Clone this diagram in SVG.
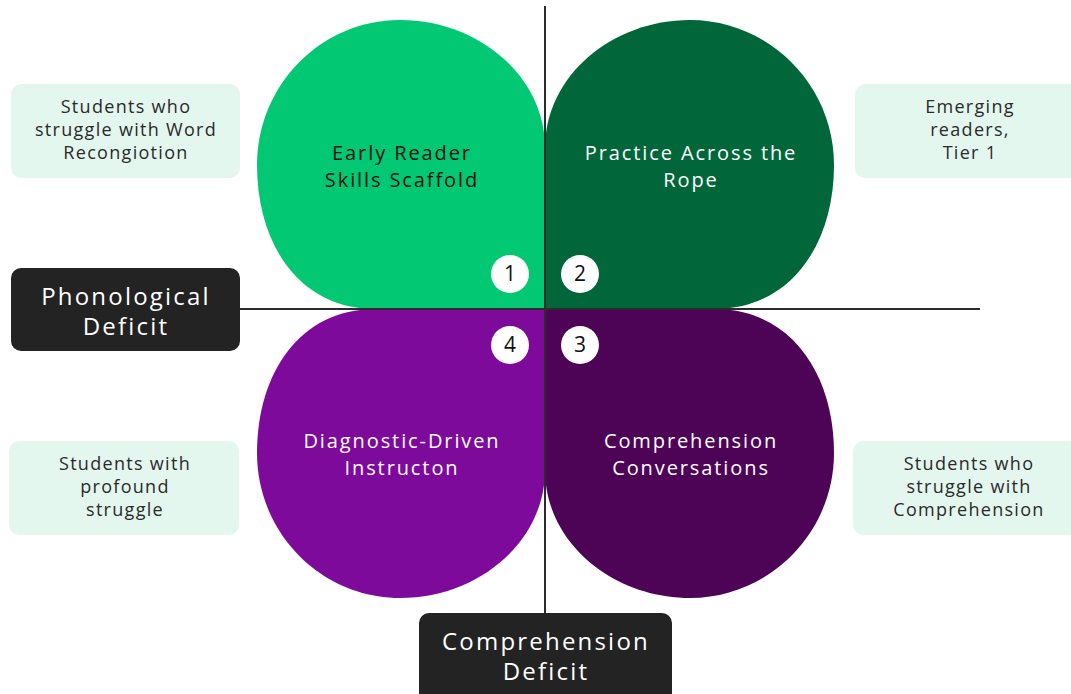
<svg xmlns="http://www.w3.org/2000/svg" width="1071" height="694" viewBox="0 0 1071 694">
<style>
text{font-family:"Open Sans","Noto Sans","Liberation Sans",sans-serif;text-anchor:middle}
.pt{font-size:20px;letter-spacing:1.9px}
.lbl{font-size:18px;letter-spacing:1.3px;fill:#2a2a2a}
.ax{font-size:24px;letter-spacing:2.2px;fill:#ffffff}
.lb{fill:#E4F7EE}
.axb{fill:#232323}
.num{fill:#ffffff}
.nt{font-size:21px;fill:#111}
.ln{stroke:#2b2b2b;stroke-width:2;fill:none}
</style>
<rect width="1071" height="694" fill="#ffffff"/>
<g id="petal1">
<path d="M545,309 L545,148 C545,76 478,20 400,20 C321,20 257,85 257,165 C257,245 300,309 375,309 Z" fill="#02C874"/>
<text class="pt" x="402" y="160" fill="#111">Early Reader</text>
<text class="pt" x="402" y="187" fill="#111">Skills Scaffold</text>
</g>
<g id="petal2">
<path d="M545,309 L545,148 C545,76 612,20 690,20 C769,20 834,85 834,165 C834,245 790,309 715,309 Z" fill="#01673A"/>
<text class="pt" x="691" y="160" fill="#ffffff">Practice Across the</text>
<text class="pt" x="691" y="187" fill="#ffffff">Rope</text>
</g>
<g id="petal4">
<path d="M545,309 L545,470 C545,542 478,598 400,598 C321,598 257,533 257,453 C257,373 300,309 375,309 Z" fill="#7E0A9B"/>
<text class="pt" x="402" y="448" fill="#ffffff">Diagnostic-Driven</text>
<text class="pt" x="402" y="475" fill="#ffffff">Instructon</text>
</g>
<g id="petal3">
<path d="M545,309 L545,470 C545,542 612,598 690,598 C769,598 834,533 834,453 C834,373 790,309 715,309 Z" fill="#4E0456"/>
<text class="pt" x="691" y="448" fill="#ffffff">Comprehension</text>
<text class="pt" x="691" y="475" fill="#ffffff">Conversations</text>
</g>
<g id="connectors">
<line class="ln" x1="545" y1="6" x2="545" y2="614"/>
<line class="ln" x1="240" y1="309" x2="980" y2="309"/>
</g>
<g id="badge1"><circle class="num" cx="510" cy="274" r="19"/><text class="nt" x="510" y="281">1</text></g>
<g id="badge2"><circle class="num" cx="580" cy="274" r="19"/><text class="nt" x="580" y="281">2</text></g>
<g id="badge4"><circle class="num" cx="510" cy="345" r="19"/><text class="nt" x="510" y="352">4</text></g>
<g id="badge3"><circle class="num" cx="580" cy="345" r="19"/><text class="nt" x="580" y="352">3</text></g>
<g id="label-tl">
<rect class="lb" x="11" y="84" width="229" height="94" rx="10"/>
<text class="lbl" x="126" y="113">Students who</text>
<text class="lbl" x="126" y="136">struggle with Word</text>
<text class="lbl" x="126" y="159">Recongiotion</text>
</g>
<g id="label-tr">
<rect class="lb" x="855" y="84" width="230" height="94" rx="10"/>
<text class="lbl" x="970" y="113">Emerging</text>
<text class="lbl" x="970" y="136">readers,</text>
<text class="lbl" x="970" y="159">Tier 1</text>
</g>
<g id="label-bl">
<rect class="lb" x="9" y="441" width="230" height="94" rx="10"/>
<text class="lbl" x="125" y="470">Students with</text>
<text class="lbl" x="125" y="493">profound</text>
<text class="lbl" x="125" y="516">struggle</text>
</g>
<g id="label-br">
<rect class="lb" x="853" y="441" width="230" height="94" rx="10"/>
<text class="lbl" x="969" y="470">Students who</text>
<text class="lbl" x="969" y="493">struggle with</text>
<text class="lbl" x="969" y="516">Comprehension</text>
</g>
<g id="axis-phonological">
<rect class="axb" x="11" y="268" width="229" height="83" rx="10"/>
<text class="ax" x="126" y="305">Phonological</text>
<text class="ax" x="126" y="335">Deficit</text>
</g>
<g id="axis-comprehension">
<rect class="axb" x="419" y="613" width="253" height="95" rx="10"/>
<text class="ax" x="546" y="650">Comprehension</text>
<text class="ax" x="546" y="680">Deficit</text>
</g>
</svg>
